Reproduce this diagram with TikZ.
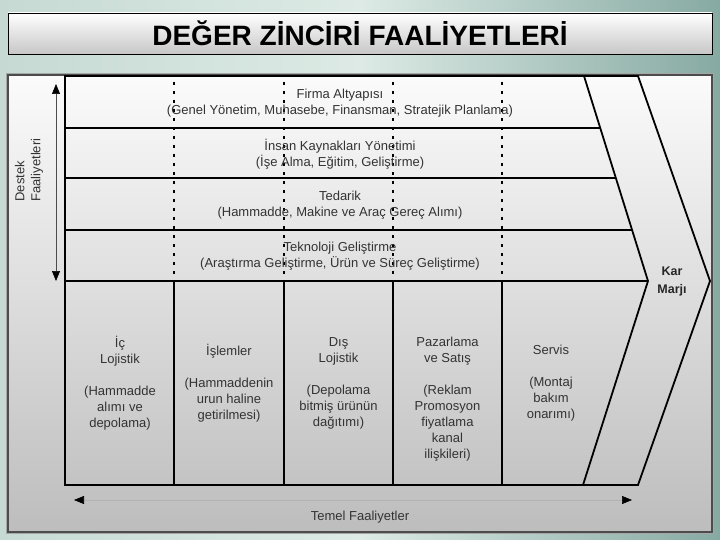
\documentclass[tikz,border=0pt]{standalone}
\usepackage{fontspec}
\setmainfont{Liberation Sans}
\usepackage{tikz}
\usepackage{xcolor}
\usetikzlibrary{positioning,arrows.meta}

\definecolor{bgedge}{HTML}{86AAA2}
\definecolor{bgmid}{HTML}{DDEAE5}
\definecolor{bgleft}{HTML}{C6DAD3}
\definecolor{paneltop}{HTML}{FBFBFB}
\definecolor{panelbot}{HTML}{BDBDBD}
\definecolor{txtgray}{HTML}{333333}

\begin{document}
\begin{tikzpicture}[x=1pt,y=-1pt,node distance=51pt,on grid,
   lbl/.style={font=\fontsize{13}{16}\selectfont,text=txtgray,align=center,inner sep=0pt},
   frame/.style={line width=1.8pt,line join=miter},
   rowline/.style={line width=1.3pt},
   dashline/.style={line width=1.4pt,dash pattern=on 3pt off 6pt},
   dblarrow/.style={{Triangle[width=8pt,length=10pt,color=black]}-{Triangle[width=8pt,length=10pt,color=black]}}]
   \useasboundingbox (0,0) rectangle (720,540);
   \shade[left color=bgleft,right color=bgedge,middle color=bgmid] (0,0) rectangle (720,540);
   \node[draw=black,line width=0.8pt,top color=white,bottom color=panelbot!85,
         minimum width=704pt,minimum height=41pt,font=\bfseries\fontsize{28}{30}\selectfont]
         (titlebox) at (360,33.5) {DEĞER ZİNCİRİ FAALİYETLERİ};
   \draw[black!35,line width=4pt] (8,75) rectangle (712,532);
   \shade[top color=paneltop,bottom color=panelbot] (8,75) rectangle (712,532);
   \draw[black!70,line width=2pt] (8,75) rectangle (712,532);

   \draw[frame] (65,76) -- (638,76) -- (710,281) -- (638,485) -- (65,485) -- cycle;
   \draw[frame] (584,76) -- (648,281) -- (583,485);
   \draw[rowline] (65,128) -- (600.2,128);
   \draw[rowline] (65,178) -- (615.8,178);
   \draw[rowline] (65,230) -- (632.1,230);
   \draw[frame] (65,281) -- (648,281);
   \draw[frame] (174,281) -- (174,485);
   \draw[frame] (284,281) -- (284,485);
   \draw[frame] (393,281) -- (393,485);
   \draw[frame] (502,281) -- (502,485);
   \draw[dashline] (174,82) -- (174,281);
   \draw[dashline] (284,82) -- (284,281);
   \draw[dashline] (393,82) -- (393,281);
   \draw[dashline] (502,82) -- (502,281);

   \node[lbl] (firma) at (340,103) {Firma Altyapısı\\(Genel Yönetim, Muhasebe, Finansman, Stratejik Planlama)};
   \node[lbl] (insan) [below=of firma] {İnsan Kaynakları Yönetimi\\(İşe Alma, Eğitim, Geliştirme)};
   \node[lbl] (tedarik) [below=of insan] {Tedarik\\(Hammadde, Makine ve Araç Gereç Alımı)};
   \node[lbl] (teknoloji) [below=of tedarik] {Teknoloji Geliştirme\\(Araştırma Geliştirme, Ürün ve Süreç Geliştirme)};

   \node[lbl] (iclojistik) at (120,383) {İç\\Lojistik\\[16pt](Hammadde\\alımı ve\\depolama)};
   \node[lbl] (islemler) [right=109pt of iclojistik] {İşlemler\\[16pt](Hammaddenin\\urun haline\\getirilmesi)};
   \node[lbl] (dislojistik) [right=109.5pt of islemler] {Dış\\Lojistik\\[16pt](Depolama\\bitmiş ürünün\\dağıtımı)};
   \node[lbl] (pazarlama) [right=109pt of dislojistik,yshift=-16.5pt] {Pazarlama\\ve Satış\\[16pt](Reklam\\Promosyon\\fiyatlama\\kanal\\ilişkileri)};
   \node[lbl] (servis) [right=103.5pt of dislojistik,xshift=109pt] {Servis\\[16pt](Montaj\\bakım\\onarımı)};

   \node[lbl,font=\bfseries\fontsize{12.5}{18}\selectfont,text=black!85] (karmarji) at (672,281) {Kar\\Marjı};
   \node[lbl,rotate=90,align=left] (destek) at (29,170) {Destek\\Faaliyetleri};
   \node[lbl] (temel) at (360,517) {Temel Faaliyetler};

   \coordinate (dtop) at (56,84);
   \coordinate (dbot) at (56,281);
   \coordinate (tleft) at (74,500);
   \coordinate (tright) at (632,500);
   \draw[dblarrow,black!70,line width=0.6pt] (dtop) -- (dbot);
   \draw[dblarrow,black!30,line width=0.6pt] (tleft) -- (tright);
\end{tikzpicture}
\end{document}
